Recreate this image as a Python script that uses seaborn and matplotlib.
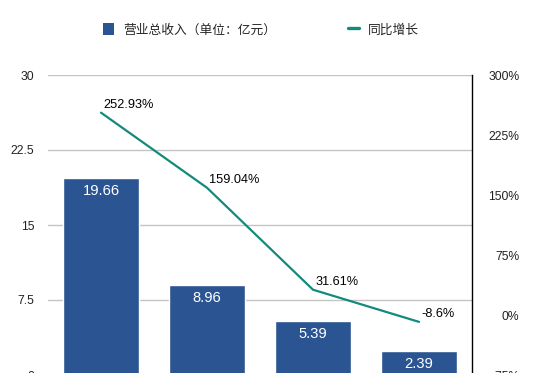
import numpy as np
import pandas as pd
import matplotlib
matplotlib.use('Agg')
import matplotlib.pyplot as plt
from matplotlib.patches import Patch
from matplotlib.lines import Line2D
import seaborn as sns

# data
categories = ['2017', '2018', '2019', '2020']
revenue = [19.66, 8.96, 5.39, 2.39]          # 营业总收入 (亿元)
growth = [252.93, 159.04, 31.61, -8.6]       # 同比增长 (%)
growth_labels = ['252.93%', '159.04%', '31.61%', '-8.6%']
left_ticks = [0, 7.5, 15, 22.5, 30]
left_ticklabels = ['0', '7.5', '15', '22.5', '30']
right_ticks = [-75, 0, 75, 150, 225, 300]
right_ticklabels = ['-75%', '0%', '75%', '150%', '225%', '300%']
legend_names = ['营业总收入（单位：亿元）', '同比增长']

bar_color = '#2b5592'
line_color = '#138a7c'

sns.set_theme(style='white')
plt.rcParams['font.family'] = ['Liberation Sans', 'Noto Sans CJK SC', 'DejaVu Sans']

df = pd.DataFrame({'cat': categories, 'revenue': revenue, 'growth': growth})

fig = plt.figure(figsize=(5.39, 3.73), dpi=100)
ax = fig.add_axes([48 / 539, 1 - 375 / 373, 424 / 539, 300 / 373])

sns.barplot(data=df, x='cat', y='revenue', color=bar_color, saturation=1,
            width=0.72, ax=ax, zorder=2)
ax.set_xlim(-0.5, 3.5)
ax.set_ylim(0, 30)
ax.set_yticks(left_ticks)
ax.set_yticklabels(left_ticklabels)
ax.set_xticklabels([])  # category labels sit below the visible area
ax.set_xlabel('')
ax.set_ylabel('')
ax.grid(axis='y', color='#c4c4c4', lw=1)
ax.set_axisbelow(True)
ax.tick_params(axis='y', length=0, pad=10, labelsize=8.7, colors='#222222')
ax.tick_params(axis='x', length=0)
for s in ax.spines.values():
    s.set_visible(False)

for i, v in enumerate(revenue):
    ax.annotate(f'{v:.2f}', (i, v), xytext=(0, -9), textcoords='offset points',
                ha='center', va='center', color='white', fontsize=10.6)

ax2 = ax.twinx()
sns.lineplot(x=np.arange(len(categories)), y=growth, color=line_color, lw=1.6,
             ax=ax2, legend=False)
ax2.set_ylim(-75, 300)
ax2.set_yticks(right_ticks)
ax2.set_yticklabels(right_ticklabels)
ax2.tick_params(axis='y', length=0, pad=34, labelsize=8.7, colors='#222222')
for lbl in ax2.get_yticklabels():
    lbl.set_ha('right')
for k, s in ax2.spines.items():
    s.set_visible(k == 'right')
ax2.spines['right'].set_color('black')
ax2.spines['right'].set_linewidth(1)

for i, (g, t) in enumerate(zip(growth, growth_labels)):
    ax2.annotate(t, (i, g), xytext=(1.5, 1.5), textcoords='offset points',
                 ha='left', va='bottom', color='black', fontsize=9.2)

handles = [Patch(facecolor=bar_color, edgecolor='none'),
           Line2D([0], [0], color=line_color, lw=2.4)]
fig.legend(handles, legend_names, loc='center', bbox_to_anchor=(261 / 539, 1 - 30 / 373),
           ncol=2, frameon=False, fontsize=9.2, handlelength=0.85, handleheight=1.0,
           handletextpad=0.75, columnspacing=5.6)

fig.savefig('out.png', dpi=100)
